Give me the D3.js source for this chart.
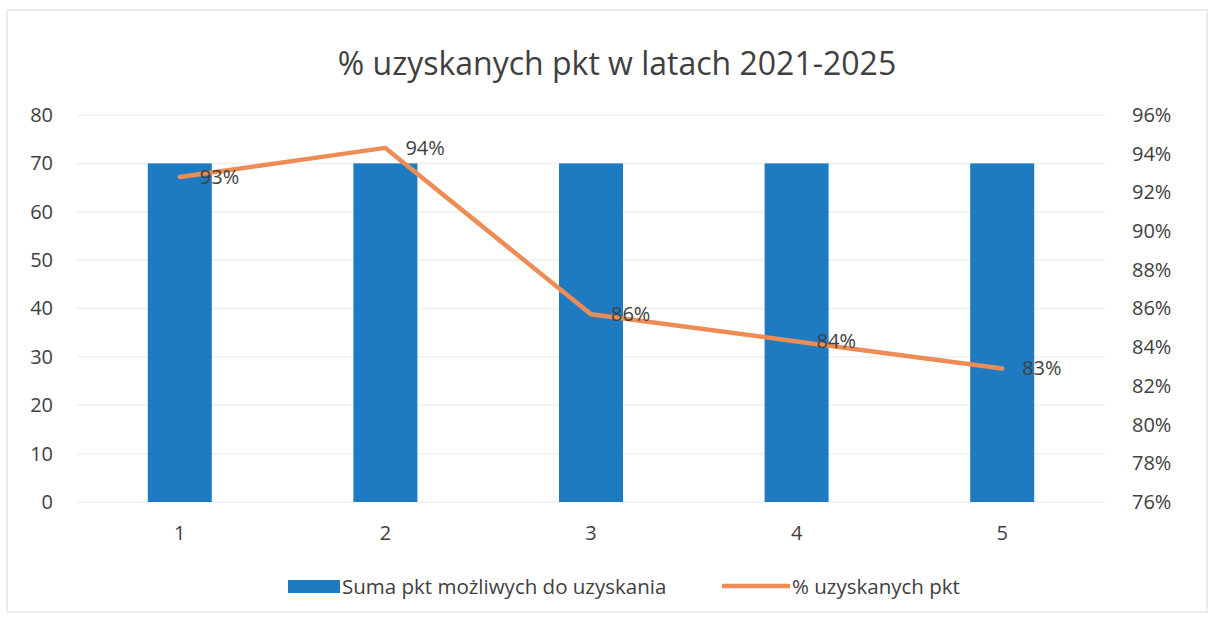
<!DOCTYPE html>
<html>
<head>
<meta charset="utf-8">
<script src="https://cdn.jsdelivr.net/npm/d3@7"></script>
<style>
  body { margin: 0; background: #fff; }
  text { font-family: 'Open Sans', 'Noto Sans', sans-serif; fill: #404040; }
</style>
</head>
<body>
<div id="chart"></div>
<script>
const categories = ['1', '2', '3', '4', '5'];
const sumPoints = [70, 70, 70, 70, 70];
const pctPoints = [0.928, 0.943, 0.857, 0.843, 0.829];
const pctLabels = ['93%', '94%', '86%', '84%', '83%'];
const leftTicks = [0, 10, 20, 30, 40, 50, 60, 70, 80];
const rightTicks = [0.76, 0.78, 0.80, 0.82, 0.84, 0.86, 0.88, 0.90, 0.92, 0.94, 0.96];

const width = 1214;
const height = 618;
const margin = { left: 77, right: 109, top: 115, bottom: 116 };
const innerW = width - margin.left - margin.right;
const innerH = height - margin.top - margin.bottom;

const svg = d3.select('#chart').append('svg')
  .attr('width', width)
  .attr('height', height);

// faint frame
svg.append('rect')
  .attr('x', 7).attr('y', 10)
  .attr('width', 1200).attr('height', 602)
  .attr('fill', 'none')
  .attr('stroke', '#ececec')
  .attr('stroke-width', 2);

svg.append('text')
  .text('% uzyskanych pkt w latach 2021-2025')
  .attr('x', 617)
  .attr('y', 75)
  .attr('text-anchor', 'middle')
  .attr('font-size', '32px');

const g = svg.append('g')
  .attr('transform', `translate(${margin.left}, ${margin.top})`);

const x = d3.scaleBand()
  .domain(categories)
  .range([0, innerW]);

const yLeft = d3.scaleLinear()
  .domain([0, 80])
  .range([innerH, 0]);

const yRight = d3.scaleLinear()
  .domain([0.76, 0.96])
  .range([innerH, 0]);

// gridlines
g.append('g')
  .selectAll('line')
  .data(leftTicks)
  .enter().append('line')
    .attr('x1', 0)
    .attr('x2', innerW)
    .attr('y1', d => yLeft(d))
    .attr('y2', d => yLeft(d))
    .attr('stroke', '#f0f0f0')
    .attr('stroke-width', 1.5);

const axisLeft = d3.axisLeft(yLeft)
  .tickValues(leftTicks)
  .tickSize(0)
  .tickPadding(24);

const axisRight = d3.axisRight(yRight)
  .tickValues(rightTicks)
  .tickSize(0)
  .tickPadding(27)
  .tickFormat(d3.format('.0%'));

const axisBottom = d3.axisBottom(x)
  .tickSize(0)
  .tickPadding(24);

g.append('g')
  .attr('class', 'y axis')
  .call(axisLeft)
  .call(s => s.select('.domain').remove())
  .selectAll('text')
    .attr('font-size', '20px');

g.append('g')
  .attr('class', 'y2 axis')
  .attr('transform', `translate(${innerW}, 0)`)
  .call(axisRight)
  .call(s => s.select('.domain').remove())
  .selectAll('text')
    .attr('font-size', '20px');

g.append('g')
  .attr('class', 'x axis')
  .attr('transform', `translate(0, ${innerH})`)
  .call(axisBottom)
  .call(s => s.select('.domain').remove())
  .selectAll('text')
    .attr('font-size', '20px');

const barW = 64;
g.selectAll('rect.bar')
  .data(sumPoints)
  .enter().append('rect')
    .attr('class', 'bar')
    .attr('x', (d, i) => x(categories[i]) + x.bandwidth() / 2 - barW / 2)
    .attr('y', d => yLeft(d))
    .attr('width', barW)
    .attr('height', d => innerH - yLeft(d))
    .attr('fill', '#1f7bc1');

const line = d3.line()
  .x((d, i) => x(categories[i]) + x.bandwidth() / 2)
  .y(d => yRight(d));

g.append('path')
  .datum(pctPoints)
  .attr('d', line)
  .attr('fill', 'none')
  .attr('stroke', '#ee8c55')
  .attr('stroke-width', 4.5)
  .attr('stroke-linejoin', 'round')
  .attr('stroke-linecap', 'round');

g.selectAll('text.lbl')
  .data(pctPoints)
  .enter().append('text')
    .attr('class', 'lbl')
    .text((d, i) => pctLabels[i])
    .attr('x', (d, i) => x(categories[i]) + x.bandwidth() / 2 + 20)
    .attr('y', d => yRight(d) + 7)
    .attr('font-size', '20px');

// legend
const legend = svg.append('g');
legend.append('rect')
  .attr('x', 288).attr('y', 580)
  .attr('width', 52).attr('height', 13)
  .attr('fill', '#1f7bc1');
legend.append('text')
  .text('Suma pkt możliwych do uzyskania')
  .attr('x', 342).attr('y', 594)
  .attr('font-size', '20.5px');
legend.append('line')
  .attr('x1', 722).attr('x2', 790)
  .attr('y1', 586).attr('y2', 586)
  .attr('stroke', '#ee8c55')
  .attr('stroke-width', 4.5);
legend.append('text')
  .text('% uzyskanych pkt')
  .attr('x', 792).attr('y', 594)
  .attr('font-size', '20.5px');
</script>
</body>
</html>
